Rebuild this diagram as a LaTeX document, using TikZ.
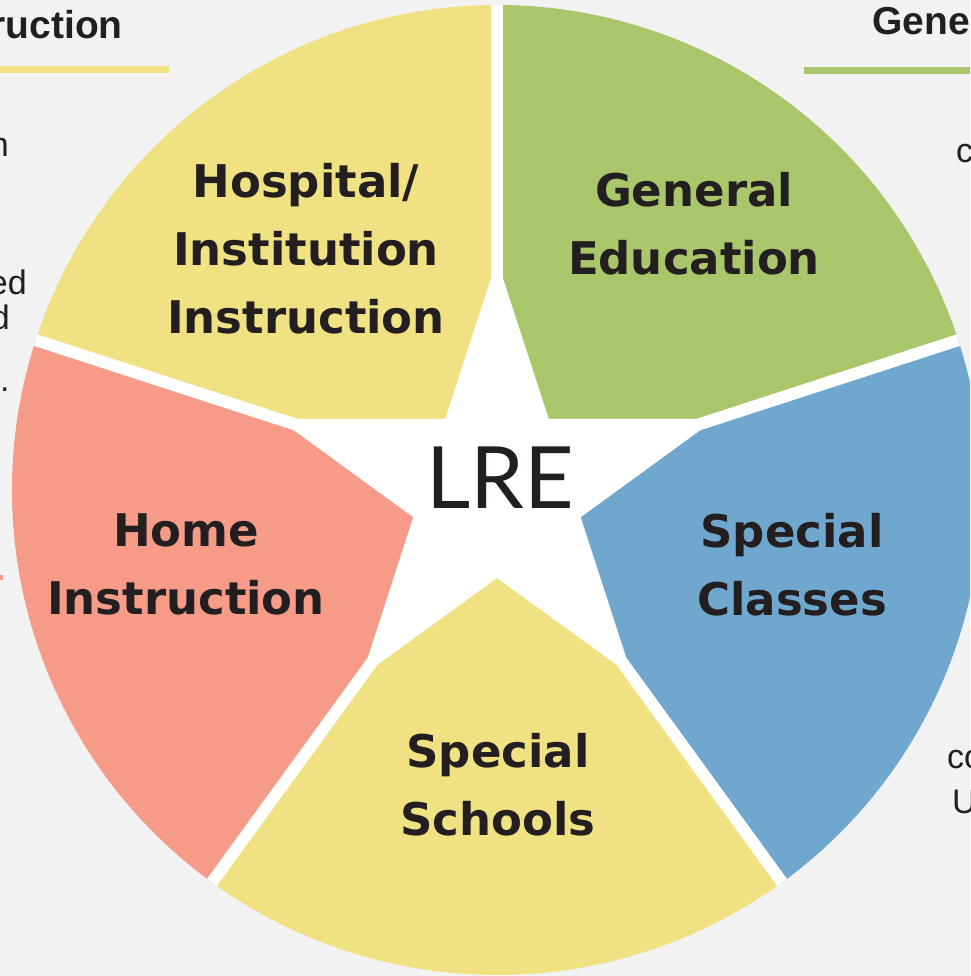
\documentclass[tikz,border=0pt]{standalone}
\usepackage{fontspec}
\setmainfont{Liberation Sans}
\newfontfamily\segfont{DejaVu Sans}
\newfontfamily\starfont{Lato}
\usepackage{tikz}
\usetikzlibrary{positioning}
\definecolor{bgcol}{HTML}{F2F2F2}
\definecolor{txtcol}{HTML}{231F20}
\definecolor{yellowseg}{HTML}{F0E182}
\definecolor{greenseg}{HTML}{A9C76A}
\definecolor{blueseg}{HTML}{6FA7CE}
\definecolor{pinkseg}{HTML}{F69B88}
\tikzset{
	seglabel/.style={align=center, anchor=base, inner sep=0pt, text=txtcol, font=\segfont\bfseries\fontsize{45}{68}\selectfont},
	edgetext/.style={inner sep=0pt, text=txtcol, font=\fontsize{34}{36}\selectfont},
	headtext/.style={inner sep=0pt, text=txtcol, font=\bfseries\fontsize{39}{44}\selectfont},
	gapline/.style={white, line width=12pt},
	headline/.style={line width=7pt}
}

\begin{document}
\begin{tikzpicture}[x=1pt, y=1pt]
	\useasboundingbox (-497,-486) rectangle (473,490);
	\clip (-497,-486) rectangle (473,490);
	\fill[bgcol] (-497,-486) rectangle (473,490);
	\coordinate (C) at (0,0);
	
	% the five sectors
	\fill[greenseg]  (C) -- (18:485)  arc[start angle=18,  end angle=90,  radius=485] -- cycle;
	\fill[yellowseg] (C) -- (90:485)  arc[start angle=90,  end angle=162, radius=485] -- cycle;
	\fill[pinkseg]   (C) -- (162:485) arc[start angle=162, end angle=234, radius=485] -- cycle;
	\fill[yellowseg] (C) -- (234:485) arc[start angle=234, end angle=306, radius=485] -- cycle;
	\fill[blueseg]   (C) -- (306:485) arc[start angle=306, end angle=378, radius=485] -- cycle;
	\foreach \a in {18,90,162,234,306}
		\draw[gapline] (C) -- (\a:485);
	
	% star
	\fill[white] (90:230) -- (126:88) -- (162:230) -- (198:88) -- (234:230) -- (270:88)
		-- (306:230) -- (342:88) -- (18:230) -- (54:88) -- cycle;
	\node[anchor=base, inner sep=0pt, text=txtcol, font=\starfont\fontsize{86}{86}\selectfont] (lre) at (3,-19) {LRE};
	
	\node[seglabel] (hosp) at (-191,156) {Hospital/\\Institution\\Instruction};
	\node[seglabel] (gened) at (197,215) {General\\Education};
	\node[seglabel] (home) at (-311,-125) {Home\\Instruction};
	\node[seglabel] (spclass) at (295,-126) {Special\\Classes};
	\node[seglabel] (spschool) at (1,-345) {Special\\Schools};
	
	% cut-off text at the edges
	\node[headtext, anchor=base east] (headl) at (-374,451) {ruction};
	\draw[headline, yellowseg] (-500,420.5) -- (-328,420.5);
	\node[headtext, anchor=base west] (headr) at (375,455) {Gene};
	\draw[headline, greenseg] (307,419.5) -- (476,419.5);
	\draw[line width=5pt, pinkseg] (-510,-88) -- (-494,-88);
	
	\node[edgetext, anchor=base east] (l1) at (-488,333) {n};
	\node[edgetext, anchor=base east] (l2) at (-470,195) {ed};
	\node[edgetext, anchor=base east] (l3) at (-487,160) {d};
	\node[edgetext, anchor=base west] (l4) at (-497,98) {.};
	\node[edgetext, anchor=base west] (r1) at (459,327) {c};
	\node[edgetext, anchor=base west] (r2) at (450,-278) {co};
	\node[edgetext, anchor=base west] (r3) at (455,-323) {U};
\end{tikzpicture}
\end{document}
